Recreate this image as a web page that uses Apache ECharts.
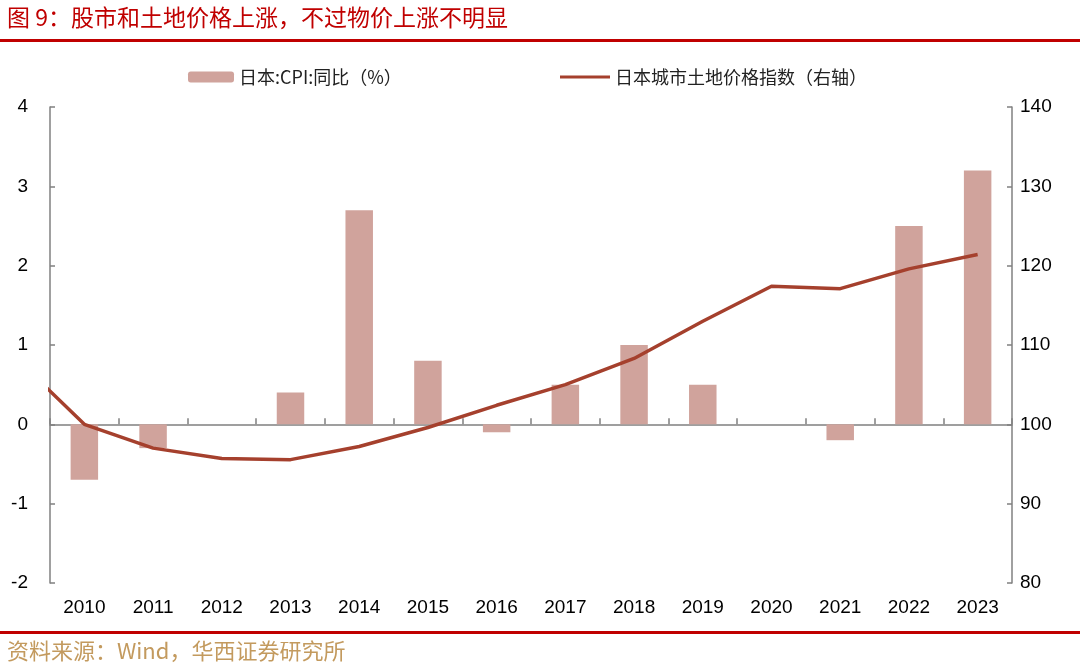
<!DOCTYPE html>
<html>
<head>
<meta charset="utf-8">
<script src="https://cdn.jsdelivr.net/npm/echarts@6/dist/echarts.min.js"></script>
<style>
html,body{margin:0;padding:0;background:#fff;}
#chart{width:1080px;height:668px;}
</style>
</head>
<body>
<div id="chart"></div>
<script>
const categories = ['2010','2011','2012','2013','2014','2015','2016','2017','2018','2019','2020','2021','2022','2023'];
const cpiYoY = [-0.7, -0.3, 0, 0.4, 2.7, 0.8, -0.1, 0.5, 1.0, 0.5, 0, -0.2, 2.5, 3.2];
const landYears = [2009, 2010, 2011, 2012, 2013, 2014, 2015, 2016, 2017, 2018, 2019, 2020, 2021, 2022, 2023];
const landIndex = [108.4, 100.0, 97.0, 95.7, 95.55, 97.2, 99.6, 102.4, 105.0, 108.3, 113.0, 117.4, 117.1, 119.6, 121.4];
const leftTicks = {min: -2, max: 4, interval: 1};
const rightTicks = {min: 80, max: 140, interval: 10};
const titleText = '图 9：股市和土地价格上涨，不过物价上涨不明显';
const sourceText = '资料来源：Wind，华西证券研究所';
const seriesNames = ['日本:CPI:同比（%）', '日本城市土地价格指数（右轴）'];

const numFont = '"Liberation Sans", Arial, "Noto Sans CJK SC", sans-serif';
const cjkFont = '"Noto Sans CJK SC", "Liberation Sans", sans-serif';

const chart = echarts.init(document.getElementById('chart'), null, {renderer: 'canvas'});
chart.setOption({
  backgroundColor: '#fff',
  animation: false,
  title: [
    {text: titleText, left: 2, top: 1,
     textStyle: {color: '#c00000', fontSize: 23, fontWeight: 'normal', fontFamily: cjkFont}},
    {text: sourceText, left: 2, top: 635,
     textStyle: {color: '#c39a5e', fontSize: 22, fontWeight: 'normal', fontFamily: cjkFont}}
  ],
  graphic: [
    {type: 'rect', left: 0, top: 39, shape: {width: 1080, height: 3}, style: {fill: '#c00000'}},
    {type: 'rect', left: 0, top: 631, shape: {width: 1080, height: 3}, style: {fill: '#c00000'}}
  ],
  legend: [
    {data: [seriesNames[0]], left: 183, top: 63, itemWidth: 46, itemHeight: 11, itemGap: 10,
     textStyle: {fontSize: 18, color: '#222', fontFamily: cjkFont}},
    {data: [{name: seriesNames[1], icon: 'rect'}], left: 555, top: 63, itemWidth: 50, itemHeight: 3,
     textStyle: {fontSize: 18, color: '#222', fontFamily: cjkFont}}
  ],
  grid: {left: 50, right: 68, top: 107, bottom: 85, containLabel: false},
  xAxis: [
    {type: 'category', data: categories, position: 'bottom',
     axisLine: {show: false, onZero: false}, axisTick: {show: false},
     axisLabel: {fontSize: 19, color: '#000', fontFamily: numFont, margin: 15}},
    {type: 'category', data: categories, position: 'bottom',
     axisLine: {show: true, onZero: true, onZeroAxisIndex: 0, lineStyle: {color: '#808080', width: 1.5}},
     axisTick: {show: true, inside: true, length: 6, lineStyle: {color: '#808080', width: 1.5}},
     axisLabel: {show: false}, splitLine: {show: false}},
    {type: 'value', min: 2009.5, max: 2023.5, show: false}
  ],
  yAxis: [
    {type: 'value', min: leftTicks.min, max: leftTicks.max, interval: leftTicks.interval,
     axisLine: {show: true, lineStyle: {color: '#808080', width: 1.5}},
     axisTick: {show: true, inside: true, length: 5, lineStyle: {color: '#808080', width: 1.5}},
     axisLabel: {fontSize: 19, color: '#000', fontFamily: numFont, margin: 22},
     splitLine: {show: false}},
    {type: 'value', min: rightTicks.min, max: rightTicks.max, interval: rightTicks.interval,
     position: 'right',
     axisLine: {show: true, lineStyle: {color: '#808080', width: 1.5}},
     axisTick: {show: true, inside: true, length: 5, lineStyle: {color: '#808080', width: 1.5}},
     axisLabel: {fontSize: 19, color: '#000', fontFamily: numFont, margin: 8},
     splitLine: {show: false}}
  ],
  series: [
    {name: seriesNames[0], type: 'bar', xAxisIndex: 0, yAxisIndex: 0, data: cpiYoY,
     barWidth: '40%', itemStyle: {color: '#d0a39c'}},
    {name: seriesNames[1], type: 'line', xAxisIndex: 2, yAxisIndex: 1,
     data: landYears.map((y, i) => [y, landIndex[i]]),
     showSymbol: false, symbol: 'none', clip: true, z: 5,
     lineStyle: {color: '#a5402d', width: 3.5}, itemStyle: {color: '#a5402d'}}
  ]
});
</script>
</body>
</html>
